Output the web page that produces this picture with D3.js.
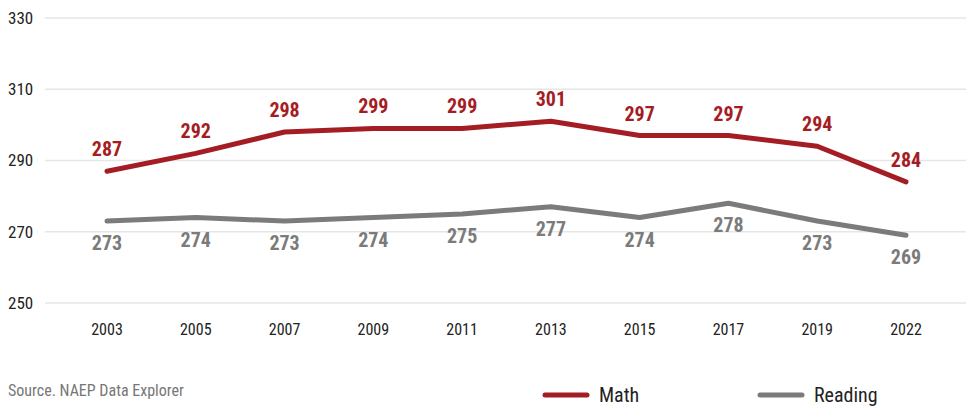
<!DOCTYPE html>
<html>
<head>
<meta charset="utf-8">
<script src="https://cdn.jsdelivr.net/npm/d3@7"></script>
<style>
  body { margin: 0; background: #fff; }
  svg { display: block; font-family: "Liberation Sans Narrow", "Roboto Condensed", "Liberation Sans", sans-serif; }
</style>
</head>
<body>
<div id="chart"></div>
<script>
// data
var years = ["2003", "2005", "2007", "2009", "2011", "2013", "2015", "2017", "2019", "2022"];
var mathScores = [287, 292, 298, 299, 299, 301, 297, 297, 294, 284];
var readingScores = [273, 274, 273, 274, 275, 277, 274, 278, 273, 269];
var yTicks = [250, 270, 290, 310, 330];

const width = 966;
const height = 407;
const mathColor = "#a51d24";
const readColor = "#7b7b7b";

const svg = d3.select("#chart").append("svg")
    .attr("width", width)
    .attr("height", height);

const x = d3.scaleBand().domain(years).range([62.6, 950.4]);
const y = d3.scaleLinear().domain([250, 330]).range([303, 18]);

// grid lines
svg.append("g").selectAll("line")
    .data(yTicks)
    .enter()
    .append("line")
    .attr("x1", 45)
    .attr("x2", width)
    .attr("y1", d => y(d))
    .attr("y2", d => y(d))
    .style("stroke", "#e6e6e6")
    .style("stroke-width", 1.5);

// y axis labels
svg.append("g").selectAll("text")
    .data(yTicks)
    .enter()
    .append("text")
    .attr("x", 8)
    .attr("y", d => y(d))
    .attr("dy", "0.35em")
    .style("font-size", "17px")
    .style("fill", "#222")
    .text(d => d);

// x axis labels
svg.append("g").selectAll("text")
    .data(years)
    .enter()
    .append("text")
    .attr("x", d => x(d) + x.bandwidth() / 2)
    .attr("y", 329)
    .attr("dy", "0.35em")
    .attr("text-anchor", "middle")
    .style("font-size", "16px")
    .style("fill", "#222")
    .text(d => d);

const line = d3.line()
    .x((d, i) => x(years[i]) + x.bandwidth() / 2)
    .y(d => y(d));

function drawSeries(values, color, offset) {
    svg.append("path")
        .datum(values)
        .attr("d", line)
        .style("fill", "none")
        .style("stroke", color)
        .style("stroke-width", 5)
        .style("stroke-linecap", "round")
        .style("stroke-linejoin", "round");

    svg.append("g").selectAll("text")
        .data(values)
        .enter()
        .append("text")
        .attr("x", (d, i) => x(years[i]) + x.bandwidth() / 2)
        .attr("y", d => y(d) + offset)
        .attr("dy", "0.35em")
        .attr("text-anchor", "middle")
        .style("font-size", "20px")
        .style("font-weight", "bold")
        .style("fill", color)
        .text(d => d);
}

drawSeries(mathScores, mathColor, -22);
drawSeries(readingScores, readColor, 22);

// source note
svg.append("text")
    .attr("x", 8)
    .attr("y", 390)
    .attr("dy", "0.35em")
    .style("font-size", "16px")
    .style("fill", "#777")
    .text("Source. NAEP Data Explorer");

// legend
var legendItems = [{ name: "Math", color: mathColor, x: 545 }, { name: "Reading", color: readColor, x: 760 }];
var legend = svg.append("g").selectAll("g")
    .data(legendItems)
    .enter()
    .append("g")
    .attr("transform", d => `translate(${d.x},395)`);

legend.append("line")
    .attr("x1", 0)
    .attr("x2", 42)
    .style("stroke", d => d.color)
    .style("stroke-width", 5)
    .style("stroke-linecap", "round");

legend.append("text")
    .attr("x", 54)
    .attr("dy", "0.35em")
    .style("font-size", "20px")
    .style("fill", "#222")
    .text(d => d.name);
</script>
</body>
</html>
